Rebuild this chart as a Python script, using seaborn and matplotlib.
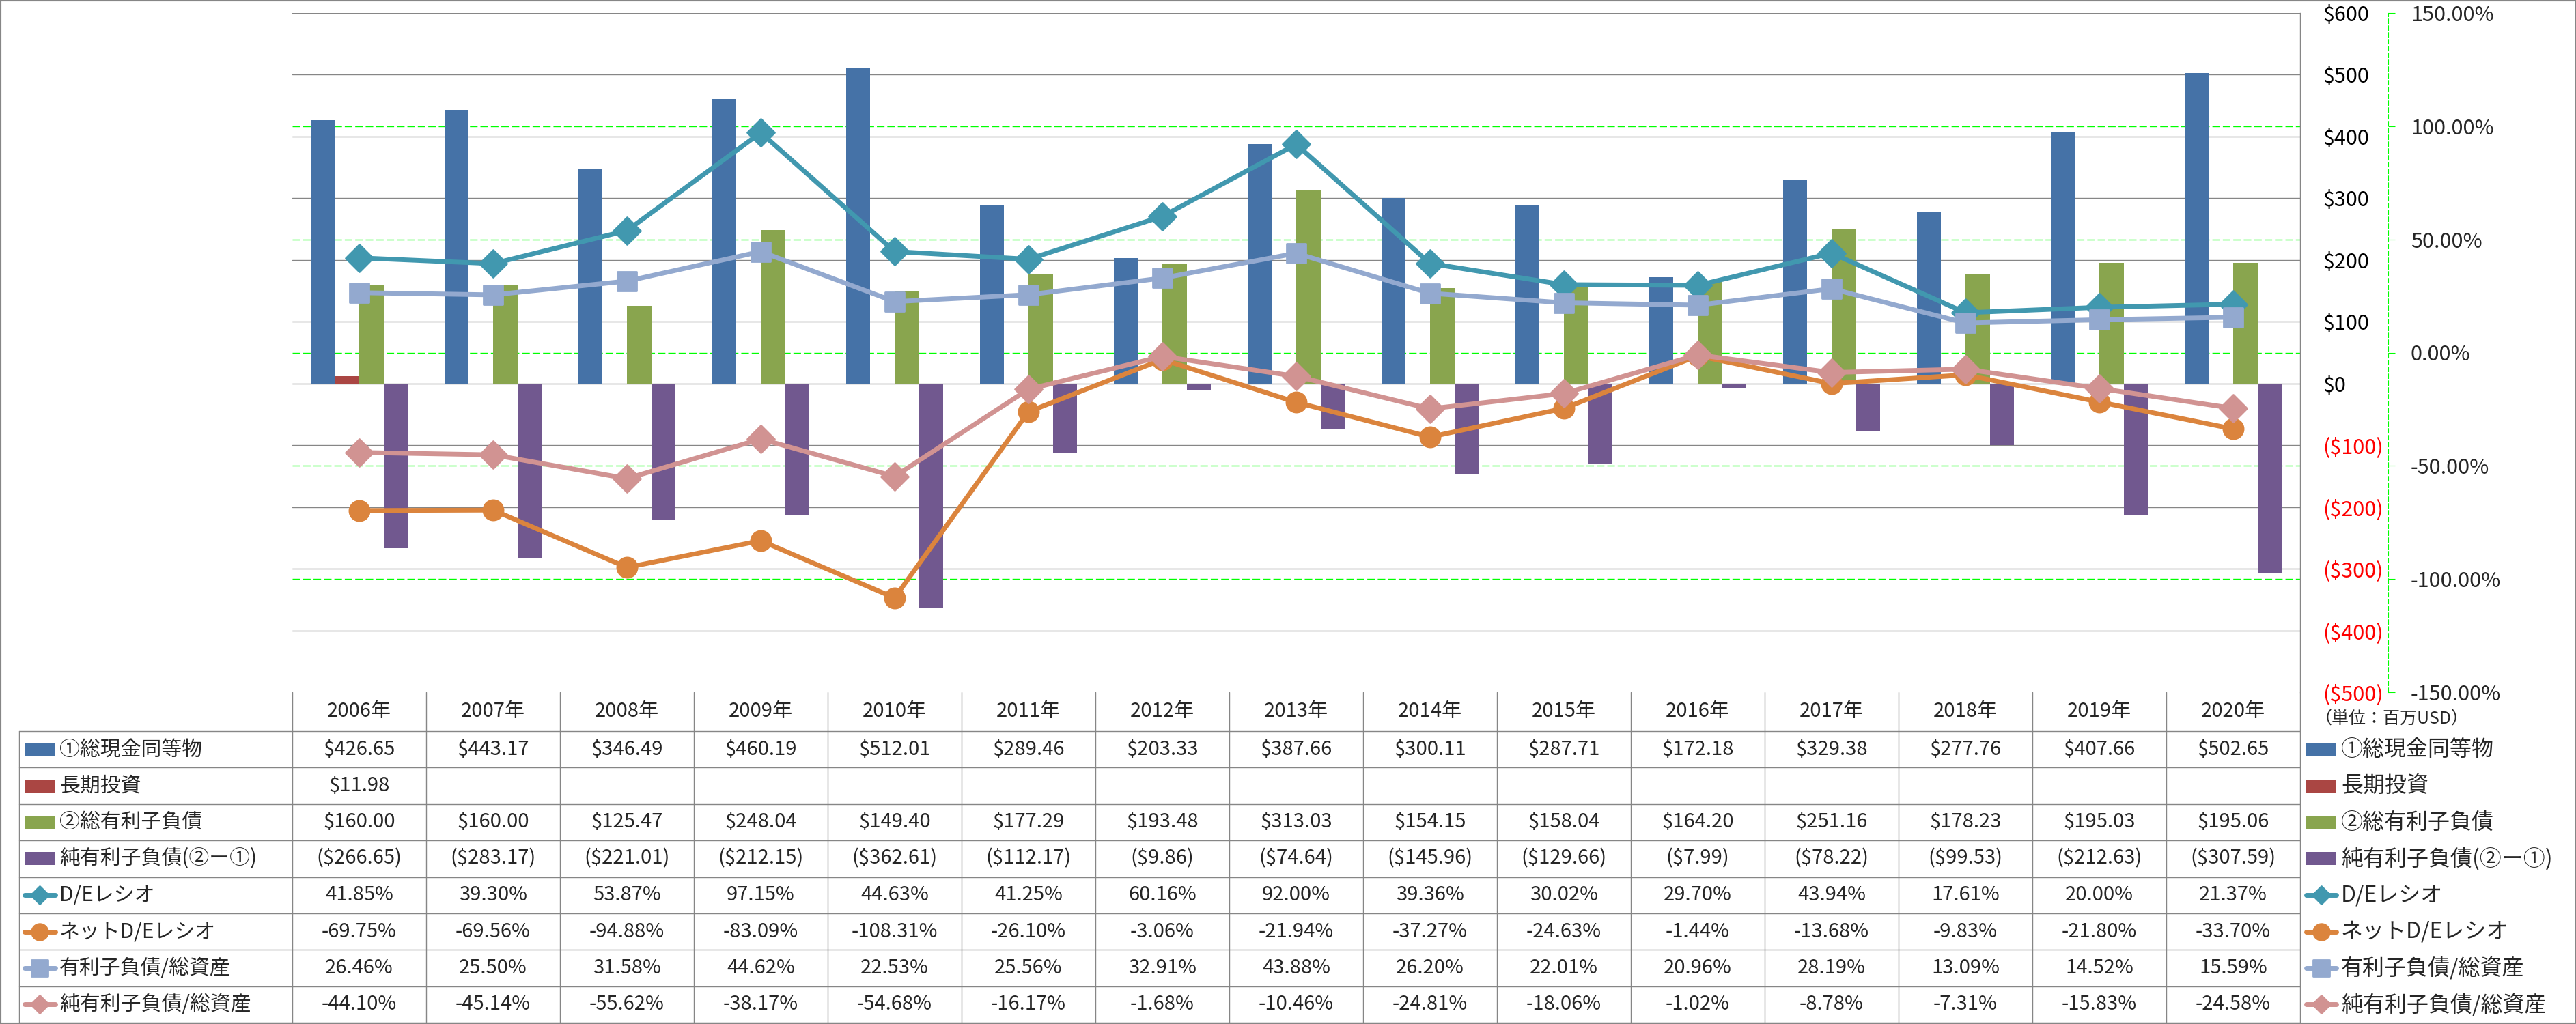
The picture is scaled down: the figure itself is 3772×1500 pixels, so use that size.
import numpy as np
import pandas as pd
import matplotlib.pyplot as plt
import seaborn as sns
from matplotlib.lines import Line2D
from matplotlib.patches import Rectangle
from matplotlib.markers import MarkerStyle
from matplotlib.transforms import blended_transform_factory

# ==========================================
# DATA (百万USD / %)
# ==========================================

years = ["2006年", "2007年", "2008年", "2009年", "2010年", "2011年", "2012年", "2013年",
         "2014年", "2015年", "2016年", "2017年", "2018年", "2019年", "2020年"]

cash = [426.65, 443.17, 346.49, 460.19, 512.01, 289.46, 203.33, 387.66,
        300.11, 287.71, 172.18, 329.38, 277.76, 407.66, 502.65]
long_invest = [11.98, None, None, None, None, None, None, None,
               None, None, None, None, None, None, None]
debt = [160.00, 160.00, 125.47, 248.04, 149.40, 177.29, 193.48, 313.03,
        154.15, 158.04, 164.20, 251.16, 178.23, 195.03, 195.06]
net_debt = [-266.65, -283.17, -221.01, -212.15, -362.61, -112.17, -9.86, -74.64,
            -145.96, -129.66, -7.99, -78.22, -99.53, -212.63, -307.59]

de_ratio = [41.85, 39.30, 53.87, 97.15, 44.63, 41.25, 60.16, 92.00,
            39.36, 30.02, 29.70, 43.94, 17.61, 20.00, 21.37]
net_de_ratio = [-69.75, -69.56, -94.88, -83.09, -108.31, -26.10, -3.06, -21.94,
                -37.27, -24.63, -1.44, -13.68, -9.83, -21.80, -33.70]
debt_assets = [26.46, 25.50, 31.58, 44.62, 22.53, 25.56, 32.91, 43.88,
               26.20, 22.01, 20.96, 28.19, 13.09, 14.52, 15.59]
net_debt_assets = [-44.10, -45.14, -55.62, -38.17, -54.68, -16.17, -1.68, -10.46,
                   -24.81, -18.06, -1.02, -8.78, -7.31, -15.83, -24.58]

bar_names = ["①総現金同等物", "長期投資", "②総有利子負債", "純有利子負債(②ー①)"]
line_names = ["D/Eレシオ", "ネットD/Eレシオ", "有利子負債/総資産", "純有利子負債/総資産"]

bar_colors = ["#4572A7", "#AA4643", "#89A54E", "#71588F"]
line_colors = ["#4198AF", "#DB843D", "#93A9CF", "#D19392"]
line_markers = ["D", "o", "s", "D"]

money_ticks = [-500, -400, -300, -200, -100, 0, 100, 200, 300, 400, 500, 600]
pct_ticks = [-150, -100, -50, 0, 50, 100, 150]

# ==========================================
# STYLE / LAYOUT
# ==========================================

sns.set_theme(style="white")
plt.rcParams["font.family"] = ["Noto Sans CJK JP", "DejaVu Sans"]

W, H = 3773, 1500
GRAY = "#868686"
GREEN = "#00FF00"
RED = "#FF0000"


def fx(x):
    return x / W


def fy(y):
    return 1 - y / H


fig = plt.figure(figsize=(W / 100, H / 100), dpi=100)
fig.patch.set_facecolor("white")

ax = fig.add_axes([fx(428), fy(1014), fx(3368) - fx(428), fy(19) - fy(1014)])
ax2 = ax.twinx()

# ==========================================
# BARS
# ==========================================

bars = pd.DataFrame({
    "year": years * 4,
    "series": np.repeat(bar_names, len(years)),
    "value": cash + long_invest + debt + net_debt,
}).dropna()

sns.barplot(data=bars, x="year", y="value", hue="series", order=years,
            hue_order=bar_names, palette=bar_colors, width=4 / 5.5,
            saturation=1, errorbar=None, linewidth=0, legend=False, ax=ax)

# ==========================================
# LINES (secondary axis)
# ==========================================

xpos = np.arange(len(years))
line_values = [de_ratio, net_de_ratio, debt_assets, net_debt_assets]


def marker_style(mk):
    return MarkerStyle(mk, joinstyle="round")


marker_sizes = {"D": 20, "o": 21, "s": 20}
for vals, color, mk in zip(line_values, line_colors, line_markers):
    sns.lineplot(x=xpos, y=vals, ax=ax2, color=color, linewidth=5,
                 marker=marker_style(mk), markersize=marker_sizes[mk],
                 markeredgewidth=2, markeredgecolor=color, legend=False)

# ==========================================
# AXES
# ==========================================

ax.set_xlim(-0.5, len(years) - 0.5)
ax.set_ylim(-500, 600)
ax2.set_ylim(-150, 150)
ax.set_xlabel("")
ax.set_ylabel("")
ax2.set_ylabel("")
ax.tick_params(axis="x", length=0, labelbottom=False)

ax.set_axisbelow(True)
ax.grid(axis="y", color=GRAY, linewidth=1.0)
ax.grid(axis="x", visible=False)
ax2.grid(False)

# green dashed gridlines of the % axis, drawn behind the bars
pct_trans = blended_transform_factory(ax.transAxes, ax2.transData)
for v in pct_ticks[1:-1]:
    ax.plot([0, 1], [v, v], transform=pct_trans, color=GREEN, linewidth=1.0,
            linestyle=(0, (8, 3)), zorder=0.6)

ax.yaxis.tick_right()
ax.set_yticks(money_ticks)
ax.set_yticklabels([f"${v}" if v >= 0 else f"(${-v})" for v in money_ticks])
ax.tick_params(axis="y", length=0, pad=24, labelsize=22)
for lab, v in zip(ax.get_yticklabels(), money_ticks):
    lab.set_color(RED if v < 0 else "black")

ax2.set_yticks(pct_ticks)
ax2.set_yticklabels([f"{v:.2f}%" for v in pct_ticks])
ax2.tick_params(axis="y", direction="out", length=7.5, width=0.8, color=GREEN,
                pad=16, labelsize=22)
for lab, v in zip(ax2.get_yticklabels(), pct_ticks):
    lab.set_color(RED if v < 0 else "black")

for s in ["left", "top", "bottom"]:
    ax.spines[s].set_visible(False)
    ax2.spines[s].set_visible(False)
ax.spines["right"].set_color(GRAY)
ax.spines["right"].set_linewidth(1.0)
ax2.spines["right"].set_position(("outward", 93))
ax2.spines["right"].set_color(GREEN)
ax2.spines["right"].set_linewidth(0.8)
ax2.spines["right"].set_linestyle((0, (6, 3)))

# ==========================================
# DATA TABLE
# ==========================================

col_trans = blended_transform_factory(ax.transData, fig.transFigure)
table_top, header_bot, table_bot = 1014, 1071, 1498
row_h = (table_bot - header_bot) / 8

for i in range(len(years) + 1):
    fig.add_artist(Line2D([i - 0.5, i - 0.5], [fy(table_top), fy(table_bot)],
                          transform=col_trans, color=GRAY, linewidth=1.0))
fig.add_artist(Line2D([fx(28), fx(28)], [fy(header_bot), fy(table_bot)],
                      color=GRAY, linewidth=1.0))
for r in range(9):
    yy = header_bot + r * row_h
    fig.add_artist(Line2D([fx(28), fx(3368)], [fy(yy), fy(yy)],
                          color=GRAY, linewidth=1.0))

for i, yr in enumerate(years):
    fig.text(i, fy((table_top + header_bot) / 2), yr, transform=col_trans,
             ha="center", va="center", fontsize=21)


def money(v):
    if v is None:
        return ""
    return f"${v:,.2f}" if v >= 0 else f"(${-v:,.2f})"


def pct(v):
    return f"{v:.2f}%"


rows = [[money(v) for v in cash], [money(v) for v in long_invest],
        [money(v) for v in debt], [money(v) for v in net_debt],
        [pct(v) for v in de_ratio], [pct(v) for v in net_de_ratio],
        [pct(v) for v in debt_assets], [pct(v) for v in net_debt_assets]]

for r, cells in enumerate(rows):
    yc = header_bot + (r + 0.5) * row_h
    for i, txt in enumerate(cells):
        fig.text(i, fy(yc), txt, transform=col_trans, ha="center",
                 va="center", fontsize=21)


def draw_key(kind, color, mk, x0, x1, yc):
    if kind == "bar":
        fig.add_artist(Rectangle((fx(x0), fy(yc + 9.5)), fx(x1) - fx(x0), 19 / H,
                                 transform=fig.transFigure, color=color, lw=0))
    else:
        fig.add_artist(Line2D([fx(x0), fx(x1)], [fy(yc), fy(yc)], color=color,
                              linewidth=5, solid_capstyle="round"))
        ms = 13 if mk == "D" else 17
        fig.add_artist(Line2D([fx((x0 + x1) / 2)], [fy(yc)], color=color,
                              marker=marker_style(mk), markersize=ms,
                              markeredgewidth=2, markeredgecolor=color))


all_names = bar_names + line_names
all_colors = bar_colors + line_colors
all_kinds = ["bar"] * 4 + ["line"] * 4
all_markers = [None] * 4 + line_markers

for r in range(8):
    yc = header_bot + (r + 0.5) * row_h
    # row label inside the table
    draw_key(all_kinds[r], all_colors[r], all_markers[r], 36, 81, yc)
    fig.text(fx(87), fy(yc), all_names[r], ha="left", va="center", fontsize=21.5)
    # legend at the right
    draw_key(all_kinds[r], all_colors[r], all_markers[r], 3377, 3421, yc)
    fig.text(fx(3428), fy(yc), all_names[r], ha="left", va="center", fontsize=23)

fig.text(fx(3390), fy(1053), "（単位：百万USD）", ha="left", va="center", fontsize=18)

# outer border
fig.add_artist(Rectangle((0, 0), 1, 1, transform=fig.transFigure, fill=False,
                         edgecolor=GRAY, linewidth=3))

fig.savefig("out.png", dpi=100, facecolor="white")
